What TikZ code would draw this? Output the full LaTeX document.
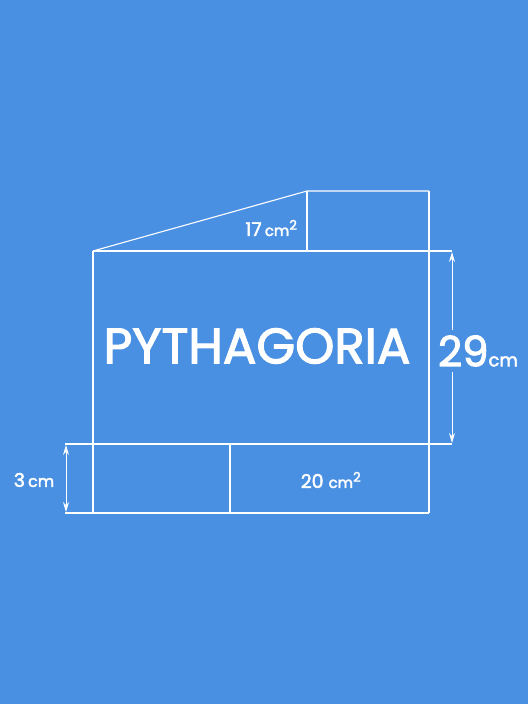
\documentclass[tikz,border=0pt]{standalone}
\usepackage{fontspec}
\setmainfont{Poppins}
\newfontfamily\medfont{Poppins}[FakeBold=2.4]
\usetikzlibrary{arrows.meta}
\definecolor{paper}{RGB}{74, 144, 226}

\begin{document}
\begin{tikzpicture}[x=1bp, y=-1bp, line width=1.1bp, white,
    dim/.style={line width=1bp, -{Stealth[length=10bp, width=6bp]}},
    lbl/.style={text=white, inner sep=0pt}]
  % background
  \fill[paper] (0,0) rectangle (528,704);
  \useasboundingbox (0,0) rectangle (528,704);

  % corners of the plan
  \coordinate (a) at (93,251);
  \coordinate (b) at (429,251);
  \coordinate (c) at (429,513);
  \coordinate (d) at (93,513);
  \coordinate (t) at (307,191);
  \coordinate (u) at (429,191);
  \coordinate (m) at (230,444);

  % main field
  \draw (a) -- (d);
  \draw (b |- u) -- (c);
  \draw (65,513) -- (c);
  \draw (a) -- (452,251);
  \draw (65,444) -- (452,444);

  % upper piece
  \draw (a) -- (t) -- (u);
  \draw (t) -- (t |- a);

  % lower piece
  \draw (m) -- (m |- c);

  % labels
  \node[lbl, font=\medfont\fontsize{50}{50}\selectfont] (name) at (257,346) {PYTHAGORIA};
  \node[lbl, anchor=east, font=\medfont\fontsize{19}{19}\selectfont] (top) at (298,228)
    {17\,{\fontsize{15}{15}\selectfont cm}\textsuperscript{2}};
  \node[lbl, font=\medfont\fontsize{19}{19}\selectfont] (low) at (331,480)
    {20 {\fontsize{15}{15}\selectfont cm}\textsuperscript{2}};

  % dimension 29 cm
  \node[lbl, font=\medfont\fontsize{42}{42}\selectfont] (h) at (478,351)
    {29{\fontsize{18}{18}\selectfont cm}};
  \coordinate (h1) at (452,330);
  \coordinate (h2) at (452,372);
  \draw[dim] (h1) -- (452,252);
  \draw[dim] (h2) -- (452,443);

  % dimension 3 cm
  \node[lbl, font=\medfont\fontsize{19}{19}\selectfont] (w) at (34,480)
    {3\,{\fontsize{16}{16}\selectfont cm}};
  \draw[dim, {Stealth[length=10bp, width=6bp]}-{Stealth[length=10bp, width=6bp]}] (66,445) -- (66,512);
\end{tikzpicture}
\end{document}
